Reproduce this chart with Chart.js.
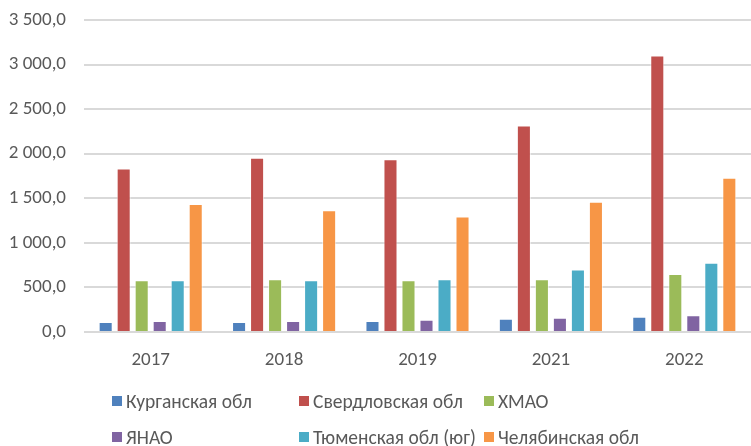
<!DOCTYPE html>
<html>
<head>
<meta charset="utf-8">
<script src="https://cdn.jsdelivr.net/npm/chart.js@4"></script>
<style>
    html, body { margin: 0; padding: 0; background: #fff; }
    #wrap { position: relative; width: 751px; height: 446px; }
    #legend {
        position: absolute; left: 112px; top: 389px;
        display: grid; grid-template-columns: 187px 185px 170px; row-gap: 12px;
        font-family: Carlito, 'Open Sans', sans-serif; font-size: 19.5px; color: #595959;
    }
    .item { display: flex; align-items: center; height: 24px; white-space: nowrap; }
    .box { width: 10px; height: 10px; margin-right: 4px; }
</style>
</head>
<body>
<div id="wrap">
    <canvas id="chart" width="751" height="446"></canvas>
    <div id="legend"></div>
</div>
<script>
const years = ['2017', '2018', '2019', '2021', '2022'];
const regions = ['Курганская обл', 'Свердловская обл', 'ХМАО', 'ЯНАО', 'Тюменская обл (юг)', 'Челябинская обл'];
const colors = ['#4F81BD', '#C0504D', '#9BBB59', '#8064A2', '#4BACC6', '#F79646'];

const kurgan = [112, 112, 124, 150, 172];
const sverdlovsk = [1834, 1954, 1939, 2317, 3103];
const hmao = [580, 591, 580, 591, 651];
const yanao = [124, 124, 138, 161, 187];
const tyumen = [580, 580, 591, 700, 778];
const chelyabinsk = [1437, 1366, 1295, 1460, 1729];

const values = [kurgan, sverdlovsk, hmao, yanao, tyumen, chelyabinsk];

const fontFamily = "Carlito, 'Open Sans', sans-serif";

// 3 500,0 style numbers
const formatTick = (v) => {
    const parts = Math.abs(v).toFixed(1).split('.');
    const int = parts[0].replace(/\B(?=(\d{3})+(?!\d))/g, ' ');
    return int + ',' + parts[1];
};

const datasets = regions.map((name, i) => ({
    label: name,
    data: values[i],
    backgroundColor: colors[i],
    borderColor: 'rgba(255,255,255,0.6)',
    borderWidth: 1,
    categoryPercentage: 0.81,
    barPercentage: 0.78,
}));

new Chart(document.getElementById('chart'), {
    type: 'bar',
    data: { labels: years, datasets },
    options: {
        responsive: false,
        animation: false,
        layout: { padding: { top: 20, right: 0, left: 0, bottom: 0 } },
        plugins: { legend: { display: false }, tooltip: { enabled: false } },
        scales: {
            x: {
                grid: { display: false },
                border: { display: false },
                ticks: { color: '#595959', font: { family: fontFamily, size: 19 }, padding: 9 },
                afterFit: (s) => { s.height = 114; s.paddingLeft = 0; s.paddingRight = 0; },
            },
            y: {
                min: 0,
                max: 3500,
                ticks: {
                    stepSize: 500,
                    color: '#595959',
                    font: { family: fontFamily, size: 19 },
                    padding: 18,
                    callback: (v) => formatTick(v),
                },
                grid: { color: '#D9D9D9', lineWidth: 2, drawTicks: false },
                border: { display: false },
                afterFit: (s) => { s.width = 84; s.paddingTop = 0; s.paddingBottom = 0; },
            },
        },
    },
});

const legend = document.getElementById('legend');
regions.forEach((name, i) => {
    const item = document.createElement('div');
    item.className = 'item';
    item.innerHTML = `<span class="box" style="background:${colors[i]}"></span><span>${name}</span>`;
    legend.appendChild(item);
});
</script>
</body>
</html>
